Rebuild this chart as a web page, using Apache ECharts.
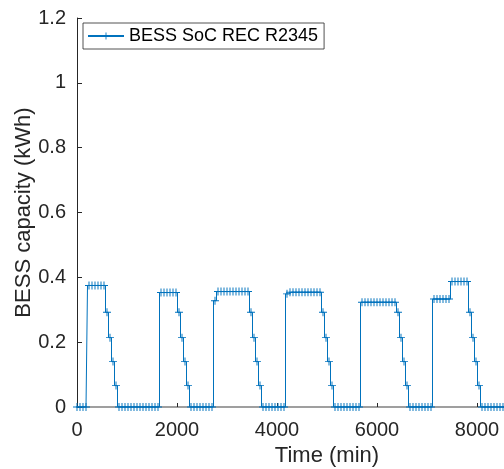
<!DOCTYPE html>
<html><head><meta charset="utf-8">
<script src="https://cdn.jsdelivr.net/npm/echarts@6/dist/echarts.min.js"></script>
<style>html,body{margin:0;padding:0;background:#fff}#c{width:504px;height:469px}</style>
</head><body><div id="c"></div>
<script>
const seriesName = 'BESS SoC REC R2345';
const xName = 'Time (min)';
const yName = 'BESS capacity (kWh)';
const sampleStepMin = 60;
// hourly samples, t = 0, 60, 120, ... 8640 min
const socKWh = [
  0,0,0,0,
  0.375,0.375,0.375,0.375,0.375,0.375,
  0.292,0.214,0.14,0.066,
  0,0,0,0,0,0,0,0,0,0,0,0,0,0,
  0.353,0.353,0.353,0.353,0.353,0.353,
  0.292,0.214,0.14,0.066,
  0,0,0,0,0,0,0,0,
  0.328,
  0.356,0.356,0.356,0.356,0.356,0.356,0.356,0.356,0.356,0.356,0.356,
  0.292,0.214,0.14,0.066,
  0,0,0,0,0,0,0,0,
  0.349,
  0.354,0.354,0.354,0.354,0.354,0.354,0.354,0.354,0.354,0.354,0.354,
  0.292,0.214,0.14,0.066,
  0,0,0,0,0,0,0,0,0,
  0.323,0.323,0.323,0.323,0.323,0.323,0.323,0.323,0.323,0.323,0.323,0.323,
  0.292,0.214,0.14,0.066,
  0,0,0,0,0,0,0,0,
  0.333,0.333,0.333,0.333,0.333,0.333,
  0.387,0.387,0.387,0.387,0.387,0.387,
  0.292,0.214,0.14,0.066,
  0,0,0,0,0,0,0,0,0,0
];
const xMin = 0, xMax = 10000, xInterval = 2000;
const yMin = 0, yMax = 1.2, yInterval = 0.2;

const points = socKWh.map((v, i) => [i * sampleStepMin, v]);
const font = "'Liberation Sans', Arial, Helvetica, sans-serif";
const txt = '#262626';
const blue = '#0072BD';
const plus = 'path://M0,4.4H10V5.6H0Z M4.4,0H5.6V10H4.4Z';

const chart = echarts.init(document.getElementById('c'), null, {renderer: 'canvas'});
chart.setOption({
  animation: false,
  backgroundColor: '#fff',
  textStyle: {fontFamily: font},
  grid: {left: 77, top: 18, bottom: 62, right: -73, containLabel: false, outerBoundsMode: 'none'},
  legend: {
    left: 83, top: 23,
    padding: [4, 6, 4, 4],
    borderColor: txt, borderWidth: 0.8,
    backgroundColor: '#fff',
    itemWidth: 36, itemHeight: 9, itemGap: 5,
    textStyle: {fontSize: 18, color: '#000', fontFamily: font},
    data: [seriesName]
  },
  xAxis: {
    type: 'value', min: xMin, max: xMax, interval: xInterval,
    name: xName, nameLocation: 'middle', nameGap: 38, nameMoveOverlap: false,
    nameTextStyle: {fontSize: 22, color: txt, fontFamily: font},
    axisLine: {show: true, onZero: false, lineStyle: {color: '#808080', width: 1.5}},
    axisTick: {show: true, inside: true, length: 4, lineStyle: {color: txt}},
    axisLabel: {fontSize: 20, color: txt, margin: 13, fontFamily: font, formatter: v => String(v)},
    splitLine: {show: false}
  },
  yAxis: {
    type: 'value', min: yMin, max: yMax, interval: yInterval,
    name: yName, nameLocation: 'middle', nameGap: 42, nameMoveOverlap: false,
    nameTextStyle: {fontSize: 22, color: txt, fontFamily: font},
    axisLine: {show: true, lineStyle: {color: txt, width: 1}},
    axisTick: {show: true, inside: true, length: 5, lineStyle: {color: txt}},
    axisLabel: {fontSize: 20, color: txt, margin: 11, fontFamily: font},
    splitLine: {show: false}
  },
  series: [{
    name: seriesName,
    type: 'line',
    step: 'middle',
    data: points,
    symbol: plus,
    symbolSize: 8,
    showAllSymbol: true,
    lineStyle: {color: blue, width: 1},
    itemStyle: {color: blue},
    clip: true
  }]
});
</script></body></html>
